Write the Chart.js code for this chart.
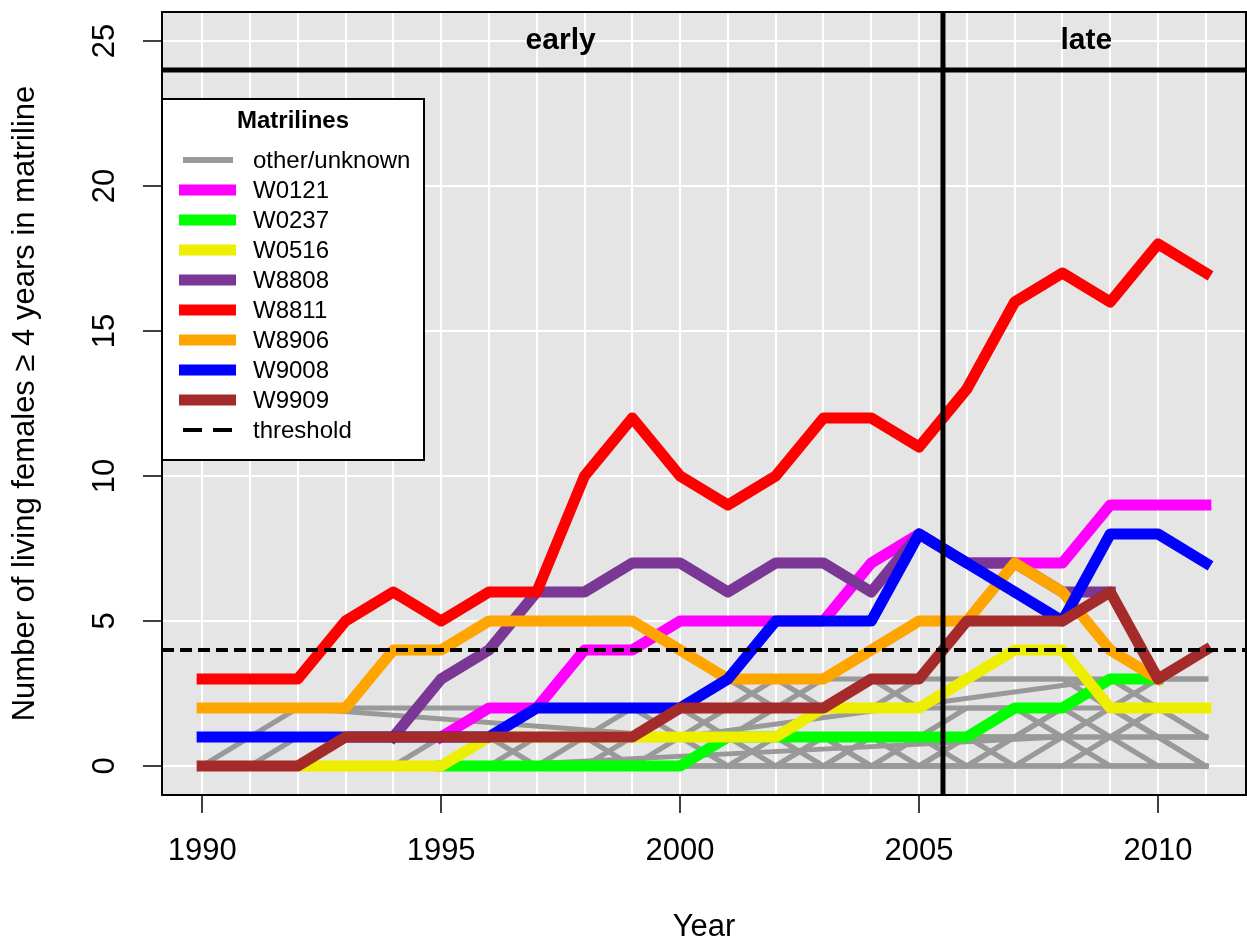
<!DOCTYPE html>
<html>
<head>
<meta charset="utf-8">
<script src="https://cdn.jsdelivr.net/npm/chart.js@4.4.1/dist/chart.umd.min.js"></script>
<style>
  html, body { margin: 0; padding: 0; background: #fff; }
  canvas { display: block; }
</style>
</head>
<body>
<canvas id="matrilineChart" width="1247" height="943"></canvas>
<script>
// years on the x axis
const years = [1990, 1991, 1992, 1993, 1994, 1995, 1996, 1997, 1998, 1999, 2000,
               2001, 2002, 2003, 2004, 2005, 2006, 2007, 2008, 2009, 2010, 2011];
const xTickLabels = [1990, 1995, 2000, 2005, 2010];
const yTickLabels = [0, 5, 10, 15, 20, 25];

// named matrilines (legend order)
const lineNames = ["W0121", "W0237", "W0516", "W8808", "W8811", "W8906", "W9008", "W9909"];
const lineColors = ["#FF00FF", "#00FF00", "#EEEE00", "#7A3795", "#FF0000", "#FFA500", "#0000FF", "#A52A2A"];

const W0121 = [null, null, null, null, null, 1, 2, 2, 4, 4, 5, 5, 5, 5, 7, 8, 7, 7, 7, 9, 9, 9];
const W0237 = [null, null, null, null, null, 0, 0, 0, 0, 0, 0, 1, 1, 1, 1, 1, 1, 2, 2, 3, 3, null];
const W0516 = [null, null, 0, 0, 0, 0, 1, 1, 1, 1, 1, 1, 1, 2, 2, 2, 3, 4, 4, 2, 2, 2];
const W8808 = [null, null, null, null, 1, 3, 4, 6, 6, 7, 7, 6, 7, 7, 6, 8, 7, 7, 6, 6, null, null];
const W8811 = [3, 3, 3, 5, 6, 5, 6, 6, 10, 12, 10, 9, 10, 12, 12, 11, 13, 16, 17, 16, 18, 17];
const W8906 = [2, 2, 2, 2, 4, 4, 5, 5, 5, 5, 4, 3, 3, 3, 4, 5, 5, 7, 6, 4, 3, null];
const W9008 = [1, 1, 1, 1, 1, 1, 1, 2, 2, 2, 2, 3, 5, 5, 5, 8, 7, 6, 5, 8, 8, 7];
const W9909 = [0, 0, 0, 1, 1, 1, 1, 1, 1, 1, 2, 2, 2, 2, 3, 3, 5, 5, 5, 6, 3, 4];
const namedSeries = [W0121, W0237, W0516, W8808, W8811, W8906, W9008, W9909];

// other/unknown matrilines (grey)
const other01 = [0, 1, 2, 2, 2, 2, 2, 2, 2, 2, 2, 3, 2, 3, 3, 2, 3, 3, 3, 2, 3, 3];
const other02 = [null, 0, 1, 1, 1, 1, 1, 1, 1, 2, 1, 1, 2, 2, 2, 2, 2, 2, 2, 3, 2, 1];
const other03 = [null, null, null, null, 0, 0, 1, 0, 0, 1, 1, 2, 3, 2, 2, 3, 3, 3, 3, 3, 3, 3];
const other04 = [null, null, null, 0, 0, 1, 1, 1, 1, 1, 2, 1, 1, 1, 1, 1, 2, 2, 1, 2, 1, 1];
const other05 = [null, null, null, null, null, 0, 0, 0, 1, 0, 0, 1, 0, 0, 1, 1, 1, 1, 2, 2, 1, 0];
const other06 = [null, null, null, null, null, null, 0, 1, 1, 1, 1, 0, 1, 1, 0, 0, 0, 1, 1, 1, 1, 1];
const other07 = [null, null, null, null, null, null, null, 0, 0, 0, 0, 0, 0, 1, 0, 0, 1, 0, 0, 1, 0, 0];
const other08 = [null, null, null, null, null, null, null, null, 0, 0, 1, 1, 1, 0, 0, 0, 0, 0, 1, 1, 1, 1];
const other09 = [null, null, null, null, null, null, null, null, null, 0, 0, 0, 0, 0, 1, 1, 0, 0, 0, 0, 0, 0];
const other10 = [null, null, null, null, null, null, null, null, null, null, 0, 0, 0, 0, 0, 0, 0, 1, 1, 2, 1, 0];
const other11 = [null, null, null, null, null, null, null, null, null, null, null, 0, 0, 1, 1, 0, 1, 1, 2, 1, 2, 1];
const other12 = [null, null, null, null, null, null, null, null, null, null, null, null, 0, 0, 0, 0, 0, 0, 0, 0, 0, 0];
const other13 = [null, null, null, null, null, null, null, null, null, null, null, null, null, 0, 0, 1, 1, 1, 1, 0, 0, 0];
// sparse records, joined across the missing years
const other14 = [null, null, 2, null, null, null, null, null, null, null, 1, null, null, null, null, null, null, null, null, null, null, null];
const other15 = [null, null, null, null, null, null, null, null, null, null, 1, null, null, null, null, null, null, null, null, 3, null, null];
const other16 = [null, null, null, null, null, null, 0, null, null, null, null, null, null, null, null, null, null, null, 1, null, null, null];
const otherSeries = [other01, other02, other03, other04, other05, other06, other07, other08,
                     other09, other10, other11, other12, other13];
const sparseSeries = [other14, other15, other16];

// reference lines
const threshold = 4;
const splitYear = 2005.5;
const stripLine = 24;
const periodLabels = ["early", "late"];
const periodLabelYears = [1997.5, 2008.5];
const periodLabelValue = 25;

const xMin = 1989.16, xMax = 2011.84;
const yMin = -1, yMax = 26;

const FONT = "'Liberation Sans', Arial, Helvetica, sans-serif";
const GREY = "#999999";

function toPoints(vals) {
  return years.map((yr, i) => ({ x: yr, y: vals[i] }));
}

const datasets = [];
otherSeries.forEach(s => {
  datasets.push({ data: toPoints(s), borderColor: GREY, borderWidth: 5, order: 30 });
});
sparseSeries.forEach(s => {
  datasets.push({ data: toPoints(s), borderColor: GREY, borderWidth: 5, order: 30, spanGaps: true });
});
namedSeries.forEach((s, i) => {
  datasets.push({ label: lineNames[i], data: toPoints(s), borderColor: lineColors[i], borderWidth: 11, order: 20 - i });
});
datasets.push({ data: [{ x: xMin, y: threshold }, { x: xMax, y: threshold }], borderColor: "#000", borderWidth: 4, borderDash: [12, 6], borderCapStyle: "butt", order: 2 });
datasets.push({ data: [{ x: xMin, y: stripLine }, { x: xMax, y: stripLine }], borderColor: "#000", borderWidth: 5, borderCapStyle: "butt", order: 1 });
datasets.push({ data: [{ x: splitYear, y: yMin }, { x: splitYear, y: yMax }], borderColor: "#000", borderWidth: 5, borderCapStyle: "butt", order: 0 });

const panelPlugin = {
  id: "panel",
  beforeDraw(chart) {
    const { ctx, chartArea: a } = chart;
    ctx.save();
    ctx.fillStyle = "#E5E5E5";
    ctx.fillRect(a.left, a.top, a.right - a.left, a.bottom - a.top);
    ctx.restore();
  },
  afterDatasetsDraw(chart) {
    const { ctx, chartArea: a, scales } = chart;
    ctx.save();
    ctx.fillStyle = "#000";
    ctx.font = "bold 30px " + FONT;
    ctx.textAlign = "center";
    ctx.textBaseline = "middle";
    periodLabels.forEach((t, i) => {
      ctx.fillText(t, scales.x.getPixelForValue(periodLabelYears[i]), scales.y.getPixelForValue(periodLabelValue));
    });
    ctx.strokeStyle = "#000";
    ctx.lineWidth = 2;
    ctx.strokeRect(a.left, a.top, a.right - a.left, a.bottom - a.top);

    // legend box
    const lx = a.left, ly = 99, lw = 262, lh = 361;
    ctx.fillStyle = "#fff";
    ctx.fillRect(lx, ly, lw, lh);
    ctx.strokeRect(lx, ly, lw, lh);
    ctx.fillStyle = "#000";
    ctx.font = "bold 24px " + FONT;
    ctx.fillText("Matrilines", lx + 131, 121);
    ctx.font = "24px " + FONT;
    ctx.textAlign = "left";
    const names = ["other/unknown"].concat(lineNames, ["threshold"]);
    names.forEach((n, k) => {
      const ry = 160 + 30 * k;
      ctx.setLineDash([]);
      ctx.lineCap = "butt";
      if (k === 0) {
        ctx.strokeStyle = GREY; ctx.lineWidth = 6;
        ctx.beginPath(); ctx.moveTo(183, ry); ctx.lineTo(233, ry); ctx.stroke();
      } else if (k <= lineNames.length) {
        ctx.strokeStyle = lineColors[k - 1]; ctx.lineWidth = 11;
        ctx.beginPath(); ctx.moveTo(179, ry); ctx.lineTo(236, ry); ctx.stroke();
      } else {
        ctx.strokeStyle = "#000"; ctx.lineWidth = 4;
        ctx.setLineDash([19, 11]);
        ctx.beginPath(); ctx.moveTo(183, ry); ctx.lineTo(232, ry); ctx.stroke();
        ctx.setLineDash([]);
      }
      ctx.fillStyle = "#000";
      ctx.fillText(n, 253, ry + 1);
    });
    ctx.restore();
  }
};

const ctx = document.getElementById("matrilineChart").getContext("2d");

new Chart(ctx, {
  type: "line",
  data: { datasets },
  options: {
    responsive: false,
    animation: false,
    devicePixelRatio: 1,
    layout: { padding: { top: 12, right: 1, left: 0, bottom: 0 } },
    elements: {
      point: { radius: 0, hoverRadius: 0 },
      line: { tension: 0, borderJoinStyle: "round", borderCapStyle: "square", fill: false }
    },
    plugins: {
      legend: { display: false },
      tooltip: { enabled: false }
    },
    scales: {
      x: {
        type: "linear",
        min: xMin,
        max: xMax,
        afterBuildTicks: s => { s.ticks = years.map(v => ({ value: v })); },
        afterFit: s => { s.height = 148; s.paddingLeft = 0; s.paddingRight = 0; },
        border: { display: false },
        grid: {
          color: "#FFFFFF",
          lineWidth: 2,
          tickLength: 18,
          tickWidth: 1.5,
          tickColor: c => (c.tick && xTickLabels.includes(c.tick.value)) ? "#000" : "rgba(0,0,0,0)"
        },
        ticks: {
          autoSkip: false,
          maxRotation: 0,
          minRotation: 0,
          padding: 20,
          color: "#000",
          font: { family: FONT, size: 31 },
          callback: v => xTickLabels.includes(v) ? String(v) : ""
        },
        title: {
          display: true,
          text: "Year",
          color: "#000",
          font: { family: FONT, size: 31, lineHeight: 1 },
          padding: { top: 0, bottom: 0 }
        }
      },
      y: {
        min: yMin,
        max: yMax,
        afterBuildTicks: s => { s.ticks = yTickLabels.map(v => ({ value: v })); },
        afterFit: s => { s.width = 162; s.paddingTop = 0; s.paddingBottom = 0; },
        border: { display: false },
        grid: {
          color: "#FFFFFF",
          lineWidth: 2,
          tickLength: 19,
          tickWidth: 1.5,
          tickColor: "#000"
        },
        ticks: {
          minRotation: 90,
          maxRotation: 90,
          crossAlign: "center",
          padding: 20,
          color: "#000",
          font: { family: FONT, size: 31 }
        },
        title: {
          display: true,
          text: "Number of living females \u2265 4 years in matriline",
          color: "#000",
          font: { family: FONT, size: 31, lineHeight: 1 },
          padding: { top: 10, bottom: 0 }
        }
      }
    }
  },
  plugins: [panelPlugin]
});
</script>
</body>
</html>
